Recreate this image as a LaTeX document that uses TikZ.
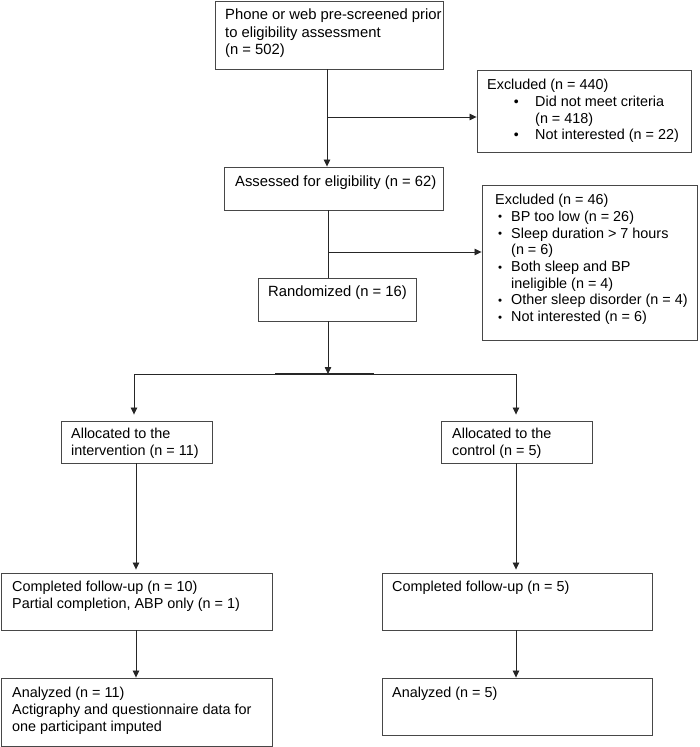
\documentclass[tikz,border=0pt]{standalone}
\usepackage{fontspec}
\setmainfont{Liberation Sans}
\usetikzlibrary{arrows.meta,calc}
\tikzset{
  box/.style={draw=black!72, line width=0.9pt, rectangle, inner sep=0pt},
  txt/.style={anchor=north west, align=left, inner sep=0pt, font=\fontsize{14.4}{16.7}\selectfont},
  txtbig/.style={txt, font=\fontsize{14.8}{17.4}\selectfont},
  conn/.style={draw=black!85, line width=0.8pt},
  arr/.style={conn, -{Triangle[length=7pt,width=6.5pt]}}
}
\newcommand\bigb{\makebox[0pt][c]{\fontsize{14}{16.7}\selectfont•}}
\newcommand\smb{\makebox[13pt][l]{\fontsize{11.5}{10}\selectfont\raisebox{0.4pt}{•}}}
\begin{document}
\begin{tikzpicture}[x=1pt,y=-1pt]
\useasboundingbox (0,0) rectangle (699,747);
% boxes
\node[box, minimum width=228pt, minimum height=68pt] (pre) at (329,35) {};
\node[box, minimum width=214pt, minimum height=82pt] (exA) at (584,111) {};
\node[box, minimum width=219pt, minimum height=43pt] (ass) at (333.5,188.5) {};
\node[box, minimum width=215pt, minimum height=155pt] (exB) at (589.5,262.5) {};
\node[box, minimum width=158pt, minimum height=43pt] (ran) at (337,299.5) {};
\node[box, minimum width=151pt, minimum height=42pt] (alI) at (136.5,442) {};
\node[box, minimum width=151pt, minimum height=42pt] (alC) at (516.5,442) {};
\node[box, minimum width=271pt, minimum height=57pt] (coI) at (136.5,601.5) {};
\node[box, minimum width=270pt, minimum height=57pt] (coC) at (517,601.5) {};
\node[box, minimum width=271pt, minimum height=68pt] (anI) at (136.5,712) {};
\node[box, minimum width=270pt, minimum height=57pt] (anC) at (517,706.5) {};
% texts
\node[txtbig] (preT) at (225,9) {Phone or web pre-screened prior\\to eligibility assessment\\(n = 502)};
\node[txt] (exAT) at (487,79) {Excluded (n = 440)\\
\hspace*{29pt}\bigb\hspace*{19pt}Did not meet criteria\\
\hspace*{48pt}(n = 418)\\
\hspace*{29pt}\bigb\hspace*{19pt}Not interested (n = 22)};
\node[txtbig] (assT) at (235,176) {Assessed for eligibility (n = 62)};
\node[txt] (exBT) at (495,194) {Excluded (n = 46)\\
\hspace*{3pt}\smb BP too low (n = 26)\\
\hspace*{3pt}\smb Sleep duration > 7 hours\\
\hspace*{16pt}(n = 6)\\
\hspace*{3pt}\smb Both sleep and BP\\
\hspace*{16pt}ineligible (n = 4)\\
\hspace*{3pt}\smb Other sleep disorder (n = 4)\\
\hspace*{3pt}\smb Not interested (n = 6)};
\node[txtbig] (ranT) at (268,286) {Randomized (n = 16)};
\node[txt] (alIT) at (71,428) {Allocated to the\\intervention (n = 11)};
\node[txt] (alCT) at (452,428) {Allocated to the\\control (n = 5)};
\node[txt] (coIT) at (12,581) {Completed follow-up (n = 10)\\Partial completion, ABP only (n = 1)};
\node[txt] (coCT) at (392,581) {Completed follow-up (n = 5)};
\node[txt] (anIT) at (12,687) {Analyzed (n = 11)\\Actigraphy and questionnaire data for\\one participant imputed};
\node[txt] (anCT) at (392,687) {Analyzed (n = 5)};
% junction coordinates
\coordinate (v1) at (327,117);
\coordinate (v2) at (328,252);
\coordinate (sp) at (328,374);
\coordinate (sL) at (134,374);
\coordinate (sR) at (516,374);
\coordinate (cL) at (136,374);
% connectors
\draw[arr] (pre.south -| v1) -- (v1 |- ass.north);
\draw[arr] (v1) -- (v1 -| exA.west);
\draw[conn] (ass.south -| v2) -- (v2 |- ran.north);
\draw[arr] (v2) -- (v2 -| exB.west);
\draw[arr] (ran.south -| sp) -- (sp);
\draw[conn] (sL) -- (sR);
\draw[conn, line width=1.3pt] (275,374) -- (374,374);
\draw[arr, shorten >=6pt] (sL) -- (sL |- alI.north);
\draw[arr, shorten >=6pt] (sR) -- (sR |- alC.north);
\draw[arr, shorten >=3pt] (alI.south -| cL) -- (cL |- coI.north);
\draw[arr, shorten >=3pt] (alC.south -| sR) -- (sR |- coC.north);
\draw[arr] (coI.south -| cL) -- (cL |- anI.north);
\draw[arr] (coC.south -| sR) -- (sR |- anC.north);
\end{tikzpicture}
\end{document}
